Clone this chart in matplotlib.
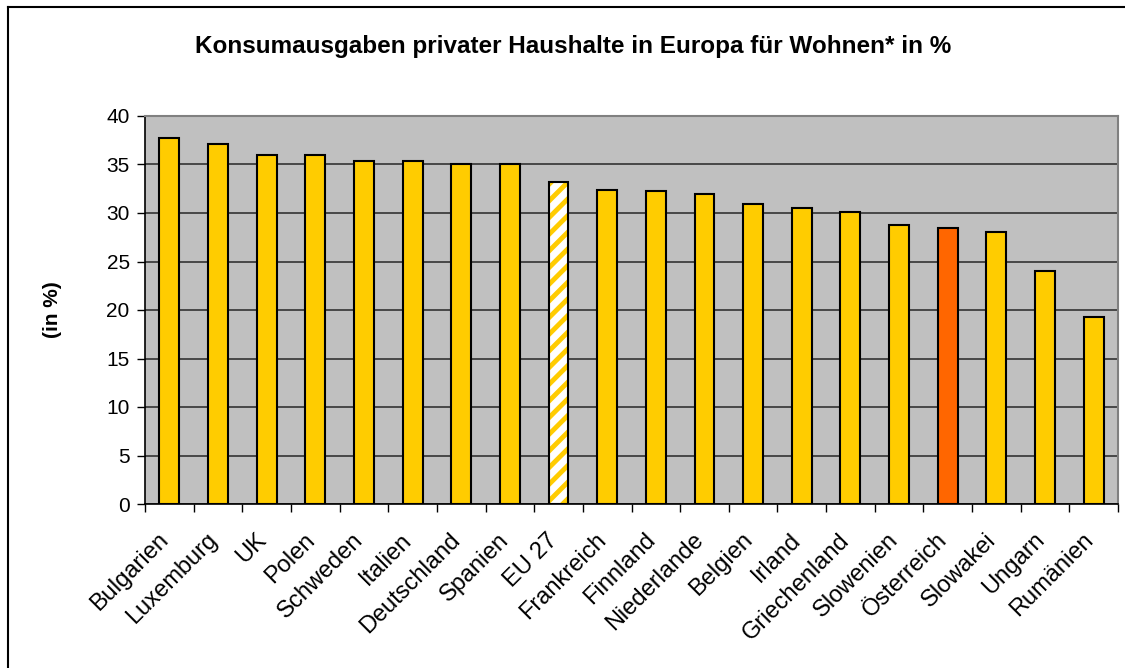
import matplotlib
matplotlib.use("Agg")
import matplotlib.pyplot as plt
from matplotlib.lines import Line2D

categories = ["Bulgarien", "Luxemburg", "UK", "Polen", "Schweden", "Italien",
              "Deutschland", "Spanien", "EU 27", "Frankreich", "Finnland",
              "Niederlande", "Belgien", "Irland", "Griechenland", "Slowenien",
              "Österreich", "Slowakei", "Ungarn", "Rumänien"]
values = [37.7, 37.1, 36.0, 36.0, 35.4, 35.4, 35.1, 35.1, 33.2, 32.4, 32.3,
          32.0, 30.9, 30.5, 30.1, 28.8, 28.5, 28.0, 24.0, 19.3]
yticks = [0, 5, 10, 15, 20, 25, 30, 35, 40]
title = "Konsumausgaben privater Haushalte in Europa für Wohnen* in %"
ylabel = "(in %)"
highlight = "Österreich"
average = "EU 27"

plt.rcParams['font.family'] = ['Liberation Sans', 'DejaVu Sans']
plt.rcParams['hatch.linewidth'] = 3.5

fig = plt.figure(figsize=(11.25, 6.68), dpi=100)
left, right, top, bottom = 145, 1118, 116, 504
ax = fig.add_axes([left/1125, 1-bottom/668, (right-left)/1125, (bottom-top)/668])
ax.set_facecolor('#C0C0C0')

x = list(range(len(categories)))
w = 0.41
for xi, cat, v in zip(x, categories, values):
    if cat == average:
        ax.bar(xi, v, width=w, color='white', edgecolor='#FFCC00', hatch='//',
               linewidth=0, zorder=3)
        ax.bar(xi, v, width=w, fill=False, edgecolor='black', linewidth=1.5, zorder=4)
    else:
        c = '#FF6600' if cat == highlight else '#FFCC00'
        ax.bar(xi, v, width=w, color=c, edgecolor='black', linewidth=1.5, zorder=3)

ax.set_xlim(-0.5, len(categories) - 0.5)
ax.set_ylim(0, 40)
ax.set_yticks(yticks)
ax.set_yticklabels([str(t) for t in yticks], fontsize=15)
ax.yaxis.grid(True, color='#333333', linewidth=1.2, zorder=1)
ax.set_axisbelow(True)

ax.set_xticks([i - 0.5 for i in range(len(categories) + 1)])
ax.set_xticklabels([])
for xi, cat in zip(x, categories):
    ax.annotate(cat, xy=(xi, 0), xycoords=('data', 'axes fraction'),
                xytext=(-8.5, -18), textcoords='offset points',
                rotation=45, ha='right', va='top', rotation_mode='anchor',
                fontsize=17, annotation_clip=False)
ax.tick_params(axis='x', length=6, width=1, direction='out', color='black')
ax.tick_params(axis='y', length=6, width=1, direction='out', color='black', pad=5)

for s in ['top', 'right']:
    ax.spines[s].set_color('#808080')
    ax.spines[s].set_linewidth(1.5)
for s in ['left', 'bottom']:
    ax.spines[s].set_color('black')
    ax.spines[s].set_linewidth(1.2)

ax.set_ylabel(ylabel, fontsize=15, fontweight='bold', labelpad=32)

fig.text(573/1125, 1-46/668, title, ha='center', va='center', fontsize=17.5,
         fontweight='bold')

# outer frame (top and left edges visible)
fig.add_artist(Line2D([8/1125, 8/1125], [0, 1-7/668], transform=fig.transFigure,
                      color='black', linewidth=1.5))
fig.add_artist(Line2D([8/1125, 1], [1-7/668, 1-7/668], transform=fig.transFigure,
                      color='black', linewidth=1.5))

fig.savefig('out.png', dpi=100, facecolor='white')
